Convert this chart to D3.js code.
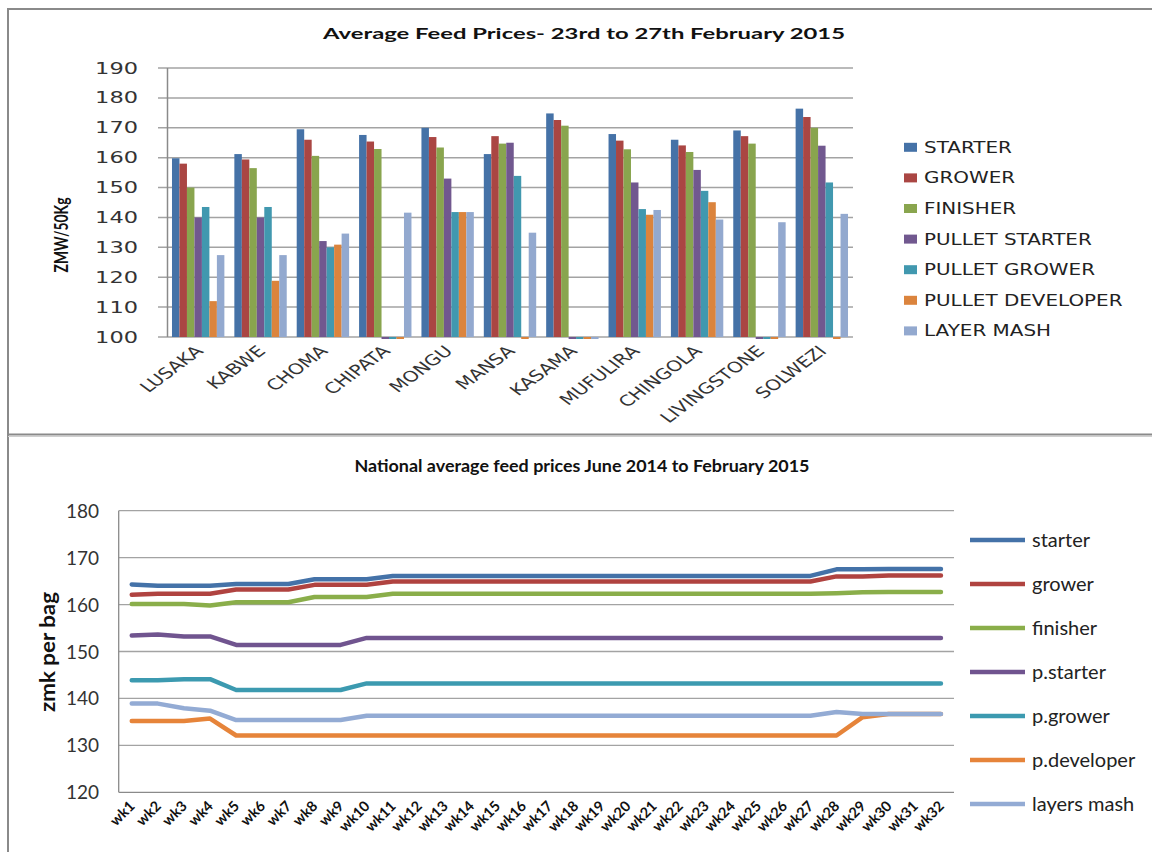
<!DOCTYPE html>
<html>
<head>
<meta charset="utf-8">
<script src="https://cdn.jsdelivr.net/npm/d3@7"></script>
<style>
  body { margin: 0; background: #fff; }
  svg { display: block; }
</style>
</head>
<body>
<div id="chart"></div>
<script>
// Top chart data: feed prices per town, 23rd to 27th February 2015
const towns = ["LUSAKA", "KABWE", "CHOMA", "CHIPATA", "MONGU", "MANSA", "KASAMA", "MUFULIRA", "CHINGOLA", "LIVINGSTONE", "SOLWEZI"];
const feedTypes = ["STARTER", "GROWER", "FINISHER", "PULLET STARTER", "PULLET GROWER", "PULLET DEVELOPER", "LAYER MASH"];
const starterPrices = [159.8, 161.2, 169.5, 167.6, 170.0, 161.2, 174.8, 167.9, 166.0, 169.1, 176.4];
const growerPrices = [158.0, 159.4, 166.0, 165.4, 166.9, 167.2, 172.6, 165.7, 164.1, 167.2, 173.6];
const finisherPrices = [150.0, 156.5, 160.6, 162.9, 163.4, 164.7, 170.7, 162.8, 161.9, 164.7, 170.0];
const pulletStarterPrices = [140.0, 140.0, 132.1, 0, 153.0, 165.0, 0, 151.7, 155.9, 0, 164.0];
const pulletGrowerPrices = [143.5, 143.5, 130.0, 0, 141.8, 153.9, 0, 142.8, 148.9, 0, 151.7];
const pulletDeveloperPrices = [112.0, 118.8, 130.9, 0, 141.8, 0, 0, 140.9, 145.1, 0, 0];
const layerMashPrices = [127.4, 127.4, 134.6, 141.6, 141.8, 134.9, 0, 142.5, 139.3, 138.4, 141.2];
const topTicks = [100, 110, 120, 130, 140, 150, 160, 170, 180, 190];

// Bottom chart data: national weekly averages June 2014 to February 2015
const weeks = ["wk1","wk2","wk3","wk4","wk5","wk6","wk7","wk8","wk9","wk10","wk11","wk12","wk13","wk14","wk15","wk16",
  "wk17","wk18","wk19","wk20","wk21","wk22","wk23","wk24","wk25","wk26","wk27","wk28","wk29","wk30","wk31","wk32"];
const lineNames = ["starter", "grower", "finisher", "p.starter", "p.grower", "p.developer", "layers mash"];
const starterWeekly = [164.3,164.0,164.0,164.0,164.4,164.4,164.4,165.4,165.4,165.4,166.1,166.1,166.1,166.1,166.1,166.1,
  166.1,166.1,166.1,166.1,166.1,166.1,166.1,166.1,166.1,166.1,166.1,167.5,167.5,167.6,167.6,167.6];
const growerWeekly = [162.1,162.3,162.3,162.3,163.2,163.2,163.2,164.2,164.2,164.2,164.9,164.9,164.9,164.9,164.9,164.9,
  164.9,164.9,164.9,164.9,164.9,164.9,164.9,164.9,164.9,164.9,164.9,166.0,166.0,166.2,166.2,166.2];
const finisherWeekly = [160.1,160.1,160.1,159.8,160.5,160.5,160.5,161.6,161.6,161.6,162.3,162.3,162.3,162.3,162.3,162.3,
  162.3,162.3,162.3,162.3,162.3,162.3,162.3,162.3,162.3,162.3,162.3,162.4,162.6,162.7,162.7,162.7];
const pStarterWeekly = [153.4,153.6,153.2,153.2,151.4,151.4,151.4,151.4,151.4,152.9,152.9,152.9,152.9,152.9,152.9,152.9,
  152.9,152.9,152.9,152.9,152.9,152.9,152.9,152.9,152.9,152.9,152.9,152.9,152.9,152.9,152.9,152.9];
const pGrowerWeekly = [143.9,143.9,144.1,144.1,141.8,141.8,141.8,141.8,141.8,143.2,143.2,143.2,143.2,143.2,143.2,143.2,
  143.2,143.2,143.2,143.2,143.2,143.2,143.2,143.2,143.2,143.2,143.2,143.2,143.2,143.2,143.2,143.2];
const pDeveloperWeekly = [135.2,135.2,135.2,135.7,132.1,132.1,132.1,132.1,132.1,132.1,132.1,132.1,132.1,132.1,132.1,132.1,
  132.1,132.1,132.1,132.1,132.1,132.1,132.1,132.1,132.1,132.1,132.1,132.1,136.0,136.7,136.7,136.7];
const layersWeekly = [138.9,138.9,137.9,137.4,135.4,135.4,135.4,135.4,135.4,136.3,136.3,136.3,136.3,136.3,136.3,136.3,
  136.3,136.3,136.3,136.3,136.3,136.3,136.3,136.3,136.3,136.3,136.3,137.1,136.7,136.7,136.7,136.7];
const bottomTicks = [120, 130, 140, 150, 160, 170, 180];

const barColors = ["#4572A7", "#AA4643", "#89A54E", "#71588F", "#4198AF", "#DB843D", "#93A9CF"];
const lineColors = ["#4472a8", "#b04340", "#8aae4a", "#70548f", "#3c9ab0", "#e6843a", "#93abd4"];

const W = 1152, H = 852;
const svg = d3.select("#chart").append("svg").attr("width", W).attr("height", H);
svg.append("rect").attr("width", W).attr("height", H).attr("fill", "#fff");

// frame lines round the two pictures
const frame = svg.append("g").attr("stroke", "#8a8a8a").attr("stroke-width", 2);
frame.append("line").attr("x1", 8).attr("x2", W).attr("y1", 9).attr("y2", 9);
frame.append("line").attr("x1", 8).attr("x2", 8).attr("y1", 8).attr("y2", H);
frame.append("line").attr("x1", 8).attr("x2", W).attr("y1", 434.5).attr("y2", 434.5);
svg.append("line").attr("x1", 8).attr("x2", W).attr("y1", 436.5).attr("y2", 436.5)
    .attr("stroke", "#cfcfcf").attr("stroke-width", 1);

// text squeezed/stretched horizontally, like the original picture
function stext(g, x, y, str, sx, rot) {
    return g.append("text")
        .attr("transform", `translate(${x},${y}) scale(${sx},1)` + (rot ? ` rotate(${rot})` : ""))
        .text(str);
}

// ---------------- top: grouped bar chart ----------------
const barChart = svg.append("g");
const series = [starterPrices, growerPrices, finisherPrices, pulletStarterPrices, pulletGrowerPrices, pulletDeveloperPrices, layerMashPrices];

const x0 = d3.scaleBand().domain(towns).range([167, 853]).paddingInner(0.16).paddingOuter(0.08);
const x1 = d3.scaleBand().domain(feedTypes).range([0, x0.bandwidth()]);
const y0 = d3.scaleLinear().domain([100, 190]).range([337, 68]);

barChart.append("text")
    .attr("x", 584).attr("y", 39)
    .attr("text-anchor", "middle")
    .attr("textLength", 522).attr("lengthAdjust", "spacingAndGlyphs")
    .style("font-family", "Lato, sans-serif").style("font-weight", "bold").style("font-size", "15px")
    .attr("fill", "#111")
    .text("Average Feed Prices- 23rd to 27th February 2015");

// gridlines
barChart.append("g").selectAll("line").data(topTicks).join("line")
    .attr("x1", 158).attr("x2", 853)
    .attr("y1", d => y0(d)).attr("y2", d => y0(d))
    .attr("stroke", "#a3a3a3").attr("stroke-width", 1.5);
barChart.append("line").attr("x1", 167.5).attr("x2", 167.5).attr("y1", y0(190)).attr("y2", y0(100))
    .attr("stroke", "#8a8a8a").attr("stroke-width", 1.5);

const topTickG = barChart.append("g")
    .style("font-family", "DejaVu Sans, sans-serif").style("font-size", "15px")
    .attr("fill", "#333").attr("text-anchor", "end");
topTicks.forEach(t => stext(topTickG, 138, y0(t) + 5.5, t, 1.5));

barChart.append("text")
    .attr("transform", "translate(68,235) rotate(-90)")
    .attr("text-anchor", "middle")
    .attr("textLength", 75).attr("lengthAdjust", "spacingAndGlyphs")
    .style("font-family", "Lato, sans-serif").style("font-weight", "bold").style("font-size", "18px")
    .attr("fill", "#111")
    .text("ZMW/50Kg");

// bars, zero values shown as a thin strip under the axis
series.forEach((vals, si) => {
    barChart.append("g").selectAll("rect").data(vals).join("rect")
        .attr("x", (d, i) => x0(towns[i]) + x1(feedTypes[si]))
        .attr("width", x1.bandwidth())
        .attr("y", d => d >= 100 ? y0(d) : y0(100))
        .attr("height", d => d >= 100 ? y0(100) - y0(d) : 2)
        .attr("fill", barColors[si]);
});

const catG = barChart.append("g")
    .style("font-family", "DejaVu Sans, sans-serif").style("font-size", "15px")
    .attr("fill", "#333").attr("text-anchor", "end");
towns.forEach(t => stext(catG, x0(t) + x0.bandwidth() / 2 + 6, 352, t, 1.35, -45));

const topLegend = barChart.append("g")
    .style("font-family", "DejaVu Sans, sans-serif").style("font-size", "15px").attr("fill", "#222");
feedTypes.forEach((f, i) => {
    const cy = 147.3 + i * 30.6;
    topLegend.append("rect").attr("x", 904).attr("y", cy - 4.5).attr("width", 13).attr("height", 9)
        .attr("fill", barColors[i]);
    stext(topLegend, 924, cy + 5.5, f, 1.33);
});

// ---------------- bottom: line chart ----------------
const lineChart = svg.append("g");
const lines = [starterWeekly, growerWeekly, finisherWeekly, pStarterWeekly, pGrowerWeekly, pDeveloperWeekly, layersWeekly];

const xw = d3.scaleBand().domain(weeks).range([118.7, 954]);
const yw = d3.scaleLinear().domain([120, 180]).range([792.3, 510.7]);

lineChart.append("text")
    .attr("x", 582).attr("y", 472)
    .attr("text-anchor", "middle")
    .attr("textLength", 455).attr("lengthAdjust", "spacingAndGlyphs")
    .style("font-family", "Lato, sans-serif").style("font-weight", "bold").style("font-size", "17px")
    .attr("fill", "#111")
    .text("National average feed prices June 2014 to  February 2015");

lineChart.append("g").selectAll("line").data(bottomTicks).join("line")
    .attr("x1", 118.7).attr("x2", 954)
    .attr("y1", d => yw(d)).attr("y2", d => yw(d))
    .attr("stroke", d => d === 120 ? "#8a8a8a" : "#a3a3a3").attr("stroke-width", 1.3);
lineChart.append("line").attr("x1", 118.7).attr("x2", 118.7).attr("y1", yw(180)).attr("y2", yw(120))
    .attr("stroke", "#8a8a8a").attr("stroke-width", 1.3);

lineChart.append("g").selectAll("text").data(bottomTicks).join("text")
    .attr("x", 99).attr("y", d => yw(d) + 7)
    .attr("text-anchor", "end")
    .style("font-family", "Lato, sans-serif").style("font-size", "19px")
    .attr("fill", "#333")
    .text(d => d);

lineChart.append("text")
    .attr("transform", "translate(55,652) rotate(-90)")
    .attr("text-anchor", "middle")
    .attr("textLength", 120).attr("lengthAdjust", "spacingAndGlyphs")
    .style("font-family", "Lato, sans-serif").style("font-weight", "bold").style("font-size", "20px")
    .attr("fill", "#111")
    .text("zmk per bag");

lineChart.append("g").selectAll("text").data(weeks).join("text")
    .attr("transform", d => `translate(${xw(d) + xw.bandwidth() / 2 + 4},${807}) rotate(-45)`)
    .attr("text-anchor", "end")
    .style("font-family", "Lato, sans-serif").style("font-weight", "bold").style("font-size", "14.5px")
    .attr("fill", "#111")
    .text(d => d);

const line = d3.line()
    .x((d, i) => xw(weeks[i]) + xw.bandwidth() / 2)
    .y(d => yw(d));

lines.forEach((vals, li) => {
    lineChart.append("path")
        .datum(vals)
        .attr("d", line)
        .attr("fill", "none")
        .attr("stroke", lineColors[li])
        .attr("stroke-width", 4.5)
        .attr("stroke-linejoin", "round")
        .attr("stroke-linecap", "round");
});

const botLegend = lineChart.append("g")
    .style("font-family", "Lato, sans-serif").style("font-size", "20px").attr("fill", "#222");
lineNames.forEach((n, i) => {
    const cy = 540 + i * 44;
    botLegend.append("line").attr("x1", 970).attr("x2", 1025).attr("y1", cy).attr("y2", cy)
        .attr("stroke", lineColors[i]).attr("stroke-width", 4.5);
    botLegend.append("text").attr("x", 1032).attr("y", cy + 7).text(n);
});
</script>
</body>
</html>
